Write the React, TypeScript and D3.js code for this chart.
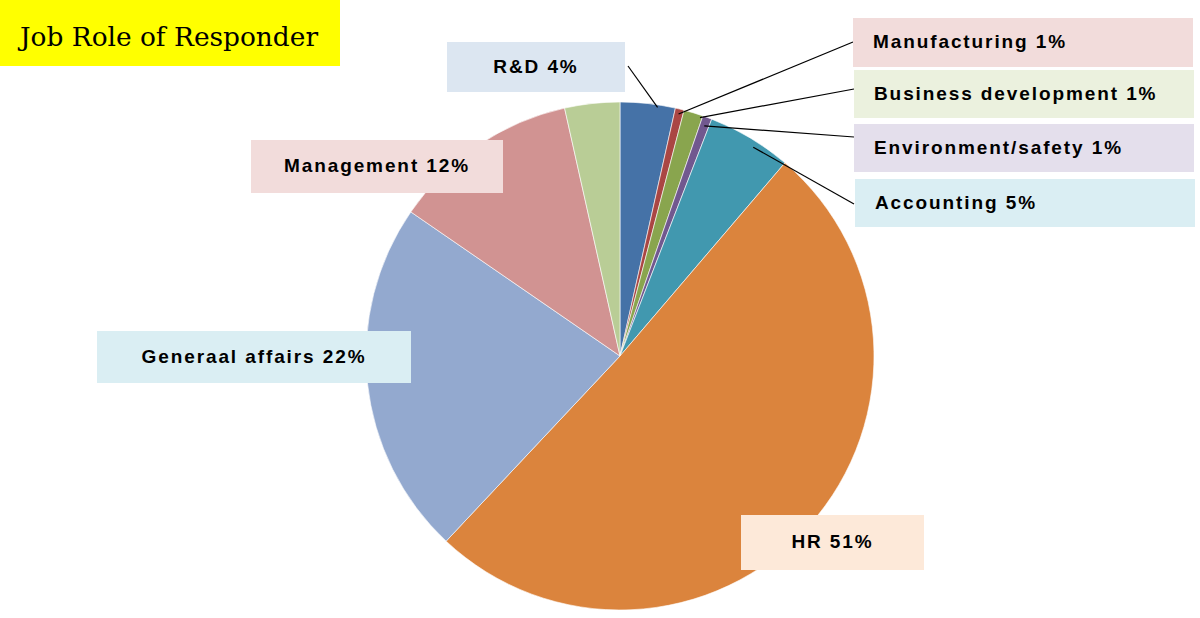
import { useMemo } from "react";
import * as d3 from "d3";

// slices in clockwise order from 12 o'clock
const roles = [
  "R&D",
  "Manufacturing",
  "Business development",
  "Environment/safety",
  "Accounting",
  "HR",
  "Generaal affairs",
  "Management",
  "Other",
];
const shares = [3.5, 0.56, 1.23, 0.59, 5.37, 50.75, 22.6, 11.9, 3.5];
const labelText = [
  "R&D 4%",
  "Manufacturing 1%",
  "Business development 1%",
  "Environment/safety 1%",
  "Accounting 5%",
  "HR 51%",
  "Generaal affairs 22%",
  "Management 12%",
  "",
];
const sliceColors = [
  "#4572a7",
  "#aa4643",
  "#89a54e",
  "#71588f",
  "#4198af",
  "#db843d",
  "#93a9cf",
  "#d19392",
  "#b9cd96",
];
const boxColors = [
  "#dce6f1",
  "#f2dcdb",
  "#ebf1de",
  "#e4dfec",
  "#daeef3",
  "#fde9d9",
  "#daeef3",
  "#f2dcdb",
  "none",
];

// label boxes: x, y, w, h, text anchor ("middle" or "start")
const boxes: [number, number, number, number, string][] = [
  [447, 42, 178, 50, "middle"],
  [853, 18, 340, 49, "start"],
  [854, 70, 340, 48, "start"],
  [854, 124, 340, 48, "start"],
  [855, 179, 340, 48, "start"],
  [741, 515, 183, 55, "middle"],
  [97, 331, 314, 52, "middle"],
  [251, 140, 252, 53, "middle"],
];

const W = 1200;
const H = 618;
const cx = 620;
const cy = 356;
const R = 254;

export default function App() {
  const data = useMemo(
    () => roles.map((r, i) => ({ role: r, value: shares[i], i })),
    []
  );
  const pie = d3
    .pie<{ role: string; value: number; i: number }>()
    .value((d) => d.value)
    .sort(null);
  const arcs = pie(data);
  const arc = d3
    .arc<d3.PieArcDatum<{ role: string; value: number; i: number }>>()
    .innerRadius(0)
    .outerRadius(R);

  // point just inside the rim, near the slice's mid-angle
  const rimPoint = (i: number, k: number, shift: number) => {
    const a = (arcs[i].startAngle + arcs[i].endAngle) / 2 + shift;
    return [cx + Math.sin(a) * R * k, cy - Math.cos(a) * R * k];
  };

  // leader lines: box anchor, depth into the pie, angular shift (rad)
  const leaders: [number, number, number, number, number][] = [
    [0, 628, 66, 0.99, 0.04],
    [1, 853, 42, 0.98, 0],
    [2, 854, 89, 0.99, 0.03],
    [3, 854, 137, 0.965, 0],
    [4, 854, 204, 0.975, 0.03],
  ];

  return (
    <div style={{ position: "fixed", left: 0, top: 0 }}>
      <svg width={W} height={H} style={{ display: "block", background: "#fff" }}>
        <rect x={0} y={0} width={340} height={66} fill="#ffff00" />
        <text
          x={20}
          y={46}
          fontFamily="'DejaVu Serif', serif"
          fontSize={26}
          textLength={298}
          lengthAdjust="spacingAndGlyphs"
          fill="#000"
        >
          Job Role of Responder
        </text>

        <g transform={`translate(${cx},${cy})`}>
          {arcs.map((d, i) => (
            <path
              key={roles[i]}
              d={arc(d) ?? ""}
              fill={sliceColors[i]}
              stroke="#ffffff"
              strokeWidth={0.6}
            />
          ))}
        </g>

        {leaders.map(([i, x1, y1, k, shift]) => {
          const [x2, y2] = rimPoint(i, k, shift);
          return (
            <line
              key={"l" + i}
              x1={x1}
              y1={y1}
              x2={x2}
              y2={y2}
              stroke="#000"
              strokeWidth={1.2}
            />
          );
        })}

        {boxes.map(([x, y, w, h, anchor], i) => (
          <g key={"b" + i}>
            <rect x={x} y={y} width={w} height={h} fill={boxColors[i]} />
            <text
              x={anchor === "middle" ? x + w / 2 : x + 20}
              y={y + h / 2}
              dy="0.3em"
              textAnchor={anchor}
              fontFamily="'Liberation Sans', Arial, sans-serif"
              fontWeight="bold"
              fontSize={19}
              letterSpacing={1.9}
              fill="#000"
            >
              {labelText[i]}
            </text>
          </g>
        ))}
      </svg>
    </div>
  );
}
